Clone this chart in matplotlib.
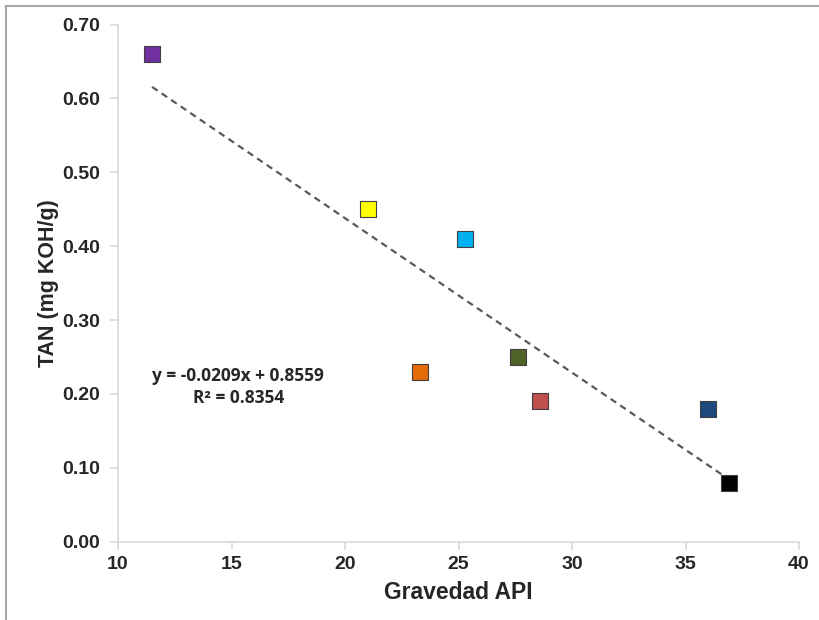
import matplotlib.pyplot as plt
from matplotlib.lines import Line2D
import numpy as np

# data
api = [11.5, 21.0, 25.3, 23.3, 27.6, 28.6, 36.0, 36.9]
tan = [0.66, 0.45, 0.41, 0.23, 0.25, 0.19, 0.18, 0.08]
colors = ["#7030A0", "#FFFF00", "#00B0F0", "#E36C09", "#4F6228", "#C0504D", "#1F497D", "#000000"]

# trendline shown on the chart
slope = -0.0209
intercept = 0.8559
r2 = 0.8354

plt.rcParams["font.family"] = ["Liberation Sans", "DejaVu Sans"]

fig = plt.figure(figsize=(8.19, 6.2), dpi=100)
ax = fig.add_axes([118 / 819, 1 - 541.7 / 620, (799 - 118) / 819, (541.7 - 24.5) / 620])

# dashed trendline over the data range
xs = np.array([min(api), max(api)])
ax.plot(xs, slope * xs + intercept, ls=(0, (3, 2.2)), color="#595959", lw=1.6, zorder=2)

for x, y, c in zip(api, tan, colors):
    ax.scatter(x, y, marker="s", s=125, color=c, edgecolors="#404040", linewidths=0.8, zorder=3)

ax.set_xlim(10, 40)
ax.set_ylim(0, 0.70)
ax.set_xticks(np.arange(10, 41, 5))
ax.set_yticks(np.arange(0, 0.71, 0.1))
ax.set_yticklabels([f"{t:.2f}" for t in np.arange(0, 0.71, 0.1)])

for s in ["top", "right"]:
    ax.spines[s].set_visible(False)
for s in ["left", "bottom"]:
    ax.spines[s].set_color("#D9D9D9")
    ax.spines[s].set_linewidth(1.2)
ax.tick_params(axis="both", direction="out", color="#D9D9D9", length=6, width=1.2,
               labelsize=14, labelcolor="#262626")
ax.tick_params(axis="y", pad=7)
ax.tick_params(axis="x", pad=4)
for lab in ax.get_xticklabels() + ax.get_yticklabels():
    lab.set_fontweight("bold")

ax.set_xlabel("Gravedad API", fontsize=16.5, fontweight="bold", color="#262626", labelpad=6)
ax.set_ylabel("TAN (mg KOH/g)", fontsize=15.5, fontweight="bold", color="#262626", labelpad=2)

ax.text(15.3, 0.224, f"y = {slope}x + {intercept}", fontsize=12.5, fontweight="bold",
        ha="center", va="center", color="#262626", family=["Open Sans", "DejaVu Sans"])
ax.text(15.3, 0.194, f"R² = {r2}", fontsize=12.5, fontweight="bold",
        ha="center", va="center", color="#262626", family=["Open Sans", "DejaVu Sans"])

# outer frame (only top and left edges visible)
fig.add_artist(Line2D([6 / 819, 6 / 819], [0, 1 - 6 / 620], color="#A6A6A6", lw=1.5))
fig.add_artist(Line2D([6 / 819, 1], [1 - 6 / 620, 1 - 6 / 620], color="#A6A6A6", lw=1.5))

fig.savefig("out.png", dpi=100)
